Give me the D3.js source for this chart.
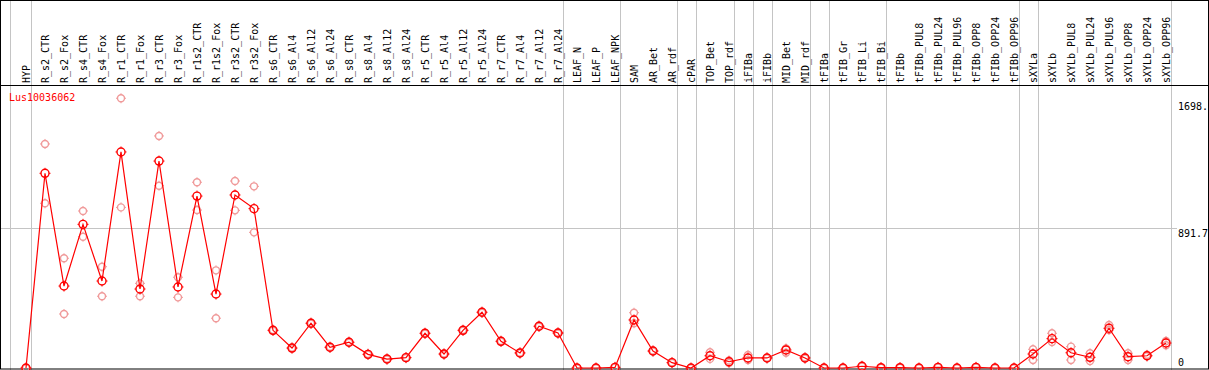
<!DOCTYPE html>
<html>
<head>
<meta charset="utf-8">
<script src="https://cdn.jsdelivr.net/npm/d3@7"></script>
<style>
  body { margin: 0; background: #fff; }
  text { font-family: "DejaVu Sans Mono", monospace; font-size: 10px; }
</style>
</head>
<body>
<svg id="chart" width="1209" height="370"></svg>
<script>
const geneName = "Lus10036062";

const samples = ["HYP", "R_s2_CTR", "R_s2_Fox", "R_s4_CTR", "R_s4_Fox", "R_r1_CTR", "R_r1_Fox",
  "R_r3_CTR", "R_r3_Fox", "R_r1s2_CTR", "R_r1s2_Fox", "R_r3s2_CTR", "R_r3s2_Fox",
  "R_s6_CTR", "R_s6_Al4", "R_s6_Al12", "R_s6_Al24", "R_s8_CTR", "R_s8_Al4", "R_s8_Al12", "R_s8_Al24",
  "R_r5_CTR", "R_r5_Al4", "R_r5_Al12", "R_r5_Al24", "R_r7_CTR", "R_r7_Al4", "R_r7_Al12", "R_r7_Al24",
  "LEAF_N", "LEAF_P", "LEAF_NPK", "SAM", "AR_Bet", "AR_rdf", "cPAR", "TOP_Bet", "TOP_rdf",
  "iFIBa", "iFIBb", "MID_Bet", "MID_rdf", "tFIBa", "tFIB_Gr", "tFIB_Li", "tFIB_Bi",
  "tFIBb", "tFIBb_PUL8", "tFIBb_PUL24", "tFIBb_PUL96", "tFIBb_OPP8", "tFIBb_OPP24", "tFIBb_OPP96",
  "sXYLa", "sXYLb", "sXYLb_PUL8", "sXYLb_PUL24", "sXYLb_PUL96", "sXYLb_OPP8", "sXYLb_OPP24", "sXYLb_OPP96"];

// mean expression per sample
const means = [0, 1240, 522, 915, 554, 1376, 503, 1318, 516, 1095, 471, 1102, 1015,
  240, 127, 285, 132, 164, 87, 57, 66,
  221, 89, 240, 355, 170, 96, 266, 223,
  0, 0, 4, 306, 108, 34, 0, 78, 40,
  64, 64, 115, 64, 0, 0, 11, 2,
  2, 0, 4, 0, 4, 0, 0,
  89, 187, 97, 68, 253, 72, 78, 159];

// two replicates per sample
const rep1 = [0, 1427, 699, 1000, 645, 1718, 539, 1478, 578, 1183, 622, 1191, 1157,
  243, 130, 288, 135, 167, 90, 60, 69,
  224, 92, 243, 358, 173, 99, 269, 226,
  0, 0, 5, 352, 111, 37, 0, 100, 48,
  83, 66, 125, 68, 0, 0, 12, 3,
  3, 0, 5, 0, 5, 0, 0,
  119, 221, 136, 94, 274, 94, 84, 172];
const rep2 = [0, 1049, 344, 836, 457, 1023, 457, 1161, 450, 1006, 317, 1004, 864,
  237, 124, 282, 129, 161, 84, 54, 63,
  218, 86, 237, 352, 167, 93, 263, 220,
  0, 0, 3, 285, 105, 31, 0, 58, 32,
  51, 62, 97, 60, 0, 0, 10, 1,
  1, 0, 3, 0, 3, 0, 0,
  51, 166, 51, 45, 242, 51, 74, 145];

// last sample of each group gets a separator
const groupEnds = ["HYP", "R_r7_Al24", "LEAF_NPK", "AR_rdf", "cPAR", "TOP_rdf", "iFIBa", "iFIBb",
  "MID_rdf", "tFIBa", "tFIB_Bi", "tFIBb_OPP96", "sXYLa", "sXYLb_OPP96"];

const yTicks = [{ v: 1698, label: "1698." }, { v: 891.7, label: "891.7" }, { v: 0, label: "0" }];

const W = 1209, H = 370, headerBottom = 85;
const svg = d3.select("#chart");

const x = d3.scalePoint().domain(samples).range([26, 1166]);
const y = d3.scaleLinear().domain([0, 1698]).range([368, 101.4]);

// separators
svg.append("line")
    .attr("x1", 10.5).attr("x2", 10.5).attr("y1", 0).attr("y2", H)
    .attr("stroke", "#c4c4c4");
svg.selectAll("line.sep")
    .data(groupEnds)
    .enter().append("line")
    .attr("class", "sep")
    .attr("x1", d => Math.round(x(d) + 4.5) + 0.5)
    .attr("x2", d => Math.round(x(d) + 4.5) + 0.5)
    .attr("y1", 0).attr("y2", H)
    .attr("stroke", "#c4c4c4");

// middle gridline
svg.append("line")
    .attr("x1", 1).attr("x2", 1177)
    .attr("y1", Math.round(y(891.7)) + 0.5).attr("y2", Math.round(y(891.7)) + 0.5)
    .attr("stroke", "#c4c4c4");

// frame
svg.append("rect")
    .attr("x", 0.5).attr("y", 0.5).attr("width", W - 1).attr("height", H - 1.5)
    .attr("fill", "none").attr("stroke", "#000");
svg.append("line")
    .attr("x1", 0).attr("x2", W).attr("y1", headerBottom + 0.5).attr("y2", headerBottom + 0.5)
    .attr("stroke", "#000");

// sample labels
svg.selectAll("text.lab")
    .data(samples)
    .enter().append("text")
    .attr("class", "lab")
    .attr("transform", d => "translate(" + (x(d) + 3.5) + "," + 83 + ") rotate(-90)")
    .attr("fill", "#000")
    .text(d => d);

// y labels
svg.selectAll("text.ytick")
    .data(yTicks)
    .enter().append("text")
    .attr("class", "ytick")
    .attr("x", 1178)
    .attr("y", d => d.v === 0 ? 366 : y(d.v) + 9)
    .attr("fill", "#000")
    .text(d => d.label);

svg.append("text")
    .attr("x", 9).attr("y", 101)
    .attr("fill", "red")
    .text(geneName);

// open circle with little ticks, like the original bitmap marker
function marker(g, color, r) {
    g.append("circle").attr("r", r).attr("fill", "none").attr("stroke", color).attr("stroke-width", 1.4);
    [[0, -1], [0, 1], [-1, 0], [1, 0]].forEach(([dx, dy]) => {
        g.append("line")
            .attr("x1", dx * r).attr("y1", dy * r)
            .attr("x2", dx * (r + 1.5)).attr("y2", dy * (r + 1.5))
            .attr("stroke", color).attr("stroke-width", 1);
    });
}

const reps = [];
samples.forEach((s, i) => { reps.push({ s, v: rep1[i] }); reps.push({ s, v: rep2[i] }); });

svg.append("g").selectAll("g")
    .data(reps)
    .enter().append("g")
    .attr("transform", d => "translate(" + x(d.s) + "," + y(d.v) + ")")
    .each(function () { marker(d3.select(this), "#f09a9a", 3.5); });

const meanPts = samples.map((s, i) => ({ s, v: means[i] }));

svg.append("path")
    .datum(meanPts)
    .attr("fill", "none")
    .attr("stroke", "red")
    .attr("stroke-width", 1.2)
    .attr("d", d3.line().x(d => x(d.s)).y(d => y(d.v)));

svg.append("g").selectAll("g")
    .data(meanPts)
    .enter().append("g")
    .attr("transform", d => "translate(" + x(d.s) + "," + y(d.v) + ")")
    .each(function () { marker(d3.select(this), "red", 4); });
</script>
</body>
</html>
